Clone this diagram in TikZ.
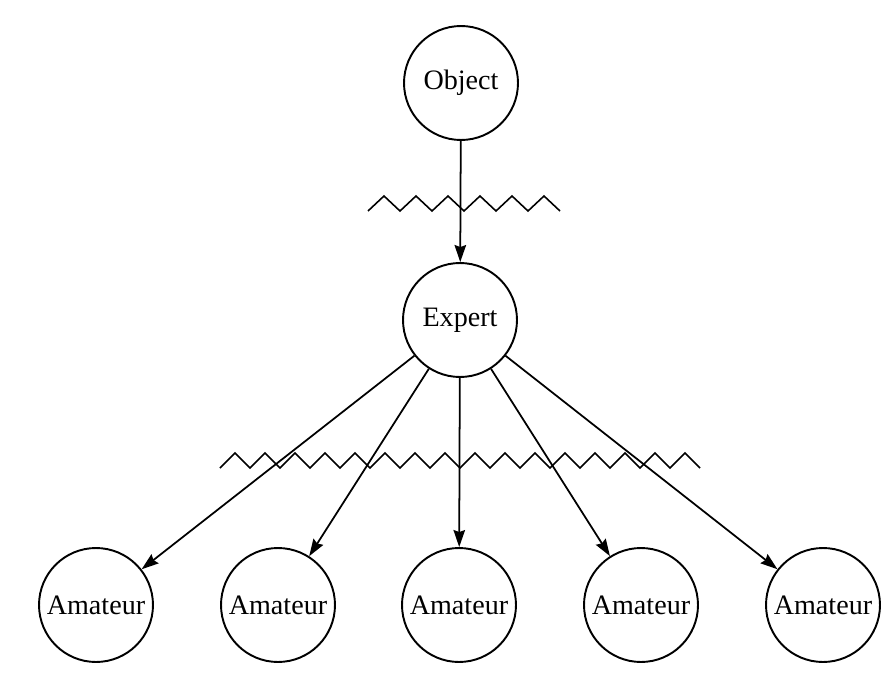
\documentclass[tikz,border=0pt]{standalone}
\usepackage{fontspec}
\setmainfont{Liberation Serif}
\usetikzlibrary{arrows.meta}
\begin{document}
\begin{tikzpicture}[x=0.02cm,y=-0.02cm,
	person/.style={draw,circle,line width=1.1pt,inner sep=0pt,minimum size=2.28cm,font=\fontsize{16}{19}\selectfont},
	arrow/.style={line width=1pt,-{Stealth[length=3.4mm,width=2.3mm,inset=0.4mm]}},
	noise/.style={line width=0.9pt,line join=miter}]
	\useasboundingbox (0,0) rectangle (893,676);
%	people
	\node[person] (object) at (461,83) {Object};
	\node[person] (expert) at (460,320) {Expert};
	\foreach \n/\x in {1/96,2/278,3/459,4/641,5/823}
		\node[person] (amateur\n) at (\x,605) {Amateur};

%	transmission
	\draw[arrow] (object) -- (expert);
	\foreach \n in {1,...,5}
		\draw[arrow] (expert) -- (amateur\n);

%	noise
	\draw[noise] (368,211) \foreach \k in {1,...,6} {-- ++(16,-15) -- ++(16,15)};
	\draw[noise] (220,468) \foreach \k in {1,...,16} {-- ++(15,-15) -- ++(15,15)};
\end{tikzpicture}
\end{document}
